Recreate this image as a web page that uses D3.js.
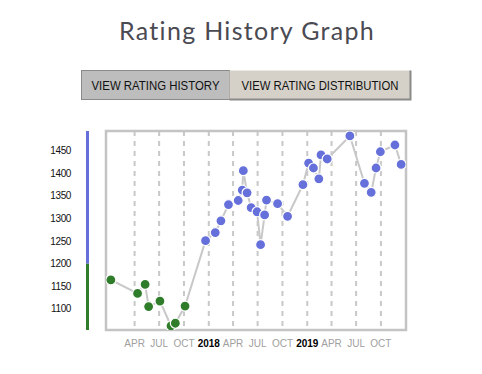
<!DOCTYPE html>
<html>
<head>
<meta charset="utf-8">
<script src="https://cdn.jsdelivr.net/npm/d3@7"></script>
<style>
    body {margin: 0; background: #fff;}
    svg {display: block;}
</style>
</head>
<body>
<svg id="chart" width="482" height="374"></svg>
<script>
// rating history
const dates = [
    "2017-01-03", "2017-04-12", "2017-05-10", "2017-05-23", "2017-07-04", "2017-08-14",
    "2017-08-30", "2017-10-05", "2017-12-20", "2018-01-25", "2018-02-15", "2018-03-15",
    "2018-04-20", "2018-05-05", "2018-05-09", "2018-05-23", "2018-06-07", "2018-06-29",
    "2018-07-12", "2018-07-27", "2018-08-03", "2018-09-13", "2018-10-20", "2018-12-16",
    "2019-01-06", "2019-01-24", "2019-02-13", "2019-02-21", "2019-03-16", "2019-06-08",
    "2019-08-01", "2019-08-26", "2019-09-13", "2019-09-29", "2019-11-22", "2019-12-15"
]
const ratings = [
    1164, 1134, 1154, 1105, 1117, 1062,
    1068, 1106, 1251, 1269, 1295, 1331,
    1340, 1363, 1406, 1357, 1324, 1315,
    1242, 1308, 1341, 1333, 1305, 1375,
    1423, 1412, 1388, 1441, 1432, 1483,
    1378, 1358, 1412, 1448, 1463, 1420
]
const tickDates = ["2017-04-01", "2017-07-01", "2017-10-01", "2018-01-01", "2018-04-01", "2018-07-01",
    "2018-10-01", "2019-01-01", "2019-04-01", "2019-07-01", "2019-10-01"]
const tickLabels = ["APR", "JUL", "OCT", "2018", "APR", "JUL", "OCT", "2019", "APR", "JUL", "OCT"]
const yTicks = [1100, 1150, 1200, 1250, 1300, 1350, 1400, 1450]
const colorBand = 1200
const buttons = ["VIEW RATING HISTORY", "VIEW RATING DISTRIBUTION"]

const parse = d3.timeParse("%Y-%m-%d")
const data = dates.map((d, i) => ({date: parse(d), rating: ratings[i]}))

const margin = {top: 131, left: 106, right: 76, bottom: 44}
const width = 482 - margin.left - margin.right
const height = 374 - margin.top - margin.bottom
const blue = "#6670db", green = "#2f7d2a"

const svg = d3.select("#chart")

// title
svg.append("text")
    .attr("x", 247)
    .attr("y", 40)
    .attr("text-anchor", "middle")
    .style("font-family", "Lato, 'Open Sans', sans-serif")
    .style("font-size", "25px")
    .style("letter-spacing", "1.3px")
    .style("fill", "#4a4a52")
    .text("Rating History Graph")

// the two toggle buttons
const btnX = [81, 229], btnW = [148, 181], btnFill = ["#bdbdbd", "#d5d1c9"], textW = [128, 157]
buttons.forEach((label, i) => {
    const g = svg.append("g").attr("transform", "translate(" + btnX[i] + ",70)")
    g.append("rect")
        .attr("x", 0.5).attr("y", 0.5)
        .attr("width", btnW[i]).attr("height", 29)
        .style("fill", btnFill[i])
        .style("stroke", i === 0 ? "#8a8a8a" : "none")
    if (i === 1) {
        g.append("path")
            .attr("d", "M0.5,29.5 H" + (btnW[i] + 0.5) + " V0.5")
            .style("fill", "none").style("stroke", "#8a8a8a").style("stroke-width", 2)
    }
    g.append("text")
        .attr("x", btnW[i] / 2 + 0.5)
        .attr("y", 20)
        .attr("text-anchor", "middle")
        .attr("textLength", textW[i])
        .attr("lengthAdjust", "spacingAndGlyphs")
        .style("font-family", "'Liberation Sans', Arial, sans-serif")
        .style("font-size", "13px")
        .style("fill", "#111")
        .text(label)
})

const x = d3.scaleTime()
    .domain([parse("2016-12-16"), parse("2020-01-02")])
    .range([0, width])

const y = d3.scaleLinear()
    .domain([1053, 1494])
    .range([height, 0])

const chart = svg.append("g")
    .attr("transform", "translate(" + margin.left + "," + margin.top + ")")

// coloured band on the left
chart.append("rect")
    .attr("x", -20).attr("y", 0)
    .attr("width", 3).attr("height", y(colorBand))
    .style("fill", blue)
chart.append("rect")
    .attr("x", -20).attr("y", y(colorBand))
    .attr("width", 3).attr("height", height - y(colorBand))
    .style("fill", green)

// y labels
chart.selectAll(".ylab")
    .data(yTicks)
    .enter()
    .append("text")
    .attr("class", "ylab")
    .attr("x", -35)
    .attr("y", d => y(d))
    .attr("dy", "0.35em")
    .attr("text-anchor", "end")
    .style("font-family", "'Liberation Sans', Arial, sans-serif")
    .style("font-size", "10px")
    .style("letter-spacing", "-0.4px")
    .style("fill", "#111")
    .text(d => d)

// dashed quarter lines
chart.selectAll(".grid")
    .data(tickDates)
    .enter()
    .append("line")
    .attr("x1", d => x(parse(d))).attr("x2", d => x(parse(d)))
    .attr("y1", 0).attr("y2", height)
    .style("stroke", "#c8c8c8")
    .style("stroke-width", 2)
    .style("stroke-dasharray", "5,5")

// x labels
chart.selectAll(".xlab")
    .data(tickDates)
    .enter()
    .append("text")
    .attr("class", "xlab")
    .attr("x", d => x(parse(d)))
    .attr("y", height + 17)
    .attr("text-anchor", "middle")
    .style("font-family", "'Liberation Sans', Arial, sans-serif")
    .style("font-size", "10px")
    .style("font-weight", (d, i) => /^\d+$/.test(tickLabels[i]) ? "bold" : "normal")
    .style("fill", (d, i) => /^\d+$/.test(tickLabels[i]) ? "#000" : "#a0a0a0")
    .text((d, i) => tickLabels[i])

// frame
chart.append("rect")
    .attr("x", 0).attr("y", 0)
    .attr("width", width).attr("height", height)
    .style("fill", "none")
    .style("stroke", "#c4c4c4")
    .style("stroke-width", 2.5)

chart.append("clipPath").attr("id", "clip")
    .append("rect").attr("width", width).attr("height", height)

const plot = chart.append("g").attr("clip-path", "url(#clip)")

plot.append("path")
    .datum(data)
    .attr("d", d3.line().x(d => x(d.date)).y(d => y(d.rating)))
    .style("fill", "none")
    .style("stroke", "#c8c8c8")
    .style("stroke-width", 2)

plot.selectAll("circle")
    .data(data)
    .enter()
    .append("circle")
    .attr("cx", d => x(d.date))
    .attr("cy", d => y(d.rating))
    .attr("r", 5)
    .style("fill", d => d.rating >= colorBand ? blue : green)
    .style("stroke", "#fff")
    .style("stroke-width", 1.2)
</script>
</body>
</html>
